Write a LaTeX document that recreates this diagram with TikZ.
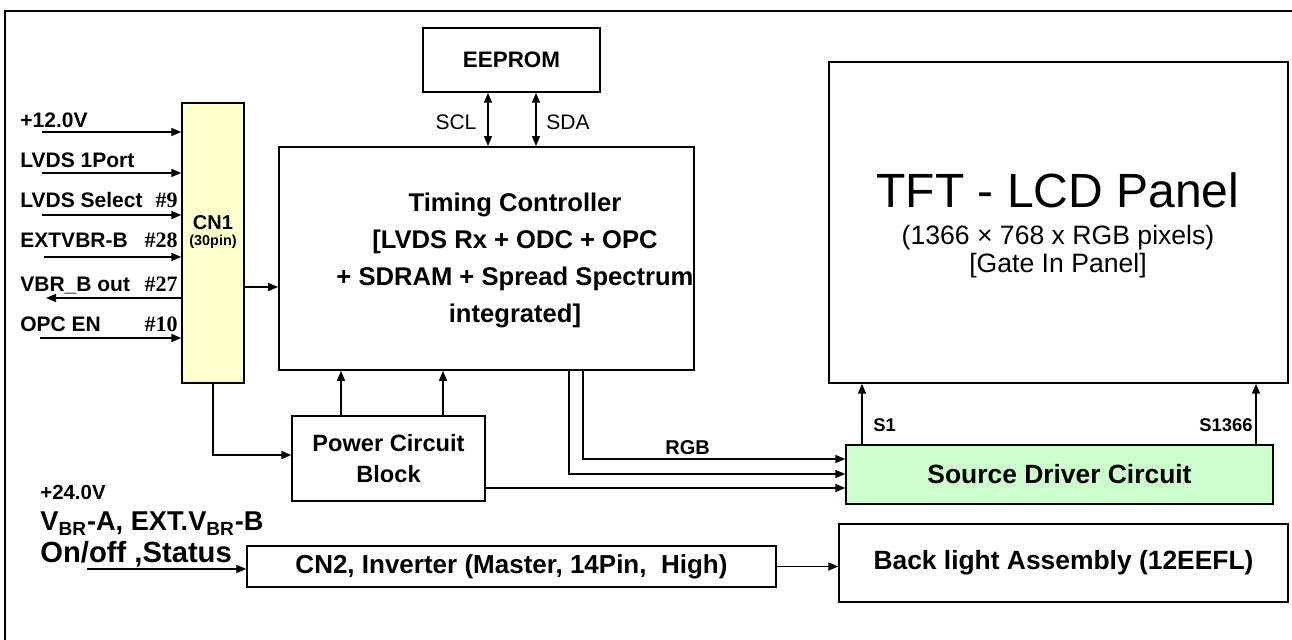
\documentclass[tikz,border=0pt]{standalone}
\usepackage{fontspec}
\setmainfont{Liberation Sans}
\newfontfamily\pinfont{Liberation Serif}
\usetikzlibrary{arrows.meta, positioning}
\definecolor{cnyellow}{RGB}{255,255,204}
\definecolor{drvgreen}{RGB}{204,255,204}

\begin{document}
\begin{tikzpicture}[x=0.5pt, y=-0.5pt,
    box/.style={draw, line width=0.7pt, inner sep=0pt, align=center},
    arr/.style={-{Triangle[length=5pt, width=4pt]}, line width=0.8pt},
    darr/.style={{Triangle[length=5pt, width=4pt]}-{Triangle[length=5pt, width=4pt]}, line width=0.8pt},
    sig/.style={anchor=base west, inner sep=0pt, font=\bfseries\fontsize{10.5}{12}\selectfont},
    pin/.style={anchor=base east, inner sep=0pt, font=\pinfont\bfseries\fontsize{11}{12}\selectfont},
    big/.style={font=\bfseries\fontsize{13.2}{18.5}\selectfont}]
    \useasboundingbox (0,0) rectangle (1292,640);

    % Frame
    \draw[line width=1pt] (5,640) -- (5,11) -- (1292,11);

    % EEPROM
    \node[box, minimum width=88.5pt, minimum height=32pt, font=\bfseries\fontsize{11.2}{13}\selectfont] (eeprom) at (511.5,60) {EEPROM};

    % Timing controller
    \node[box, line width=0.9pt, minimum width=207.5pt, minimum height=111.5pt] (tc) at (486.5,258.5) {};
    \node[align=center, inner sep=0pt, font=\bfseries\fontsize{12.8}{18.5}\selectfont] (tcl) at (515,260) {Timing Controller\\ {[LVDS Rx + ODC + OPC}\\ + SDRAM + Spread Spectrum\\ integrated]};

    % SCL / SDA
    \coordinate (scl) at (488,0);
    \coordinate (sda) at (536,0);
    \draw[darr] (eeprom.south -| scl) -- (tc.north -| scl);
    \draw[darr] (eeprom.south -| sda) -- (tc.north -| sda);
    \node[anchor=base, inner sep=0pt, font=\fontsize{10.5}{12}\selectfont] (scll) at (456,130) {SCL};
    \node[anchor=base, inner sep=0pt, font=\fontsize{10.5}{12}\selectfont] (sdal) at (568,130) {SDA};

    % TFT-LCD panel
    \node[box, minimum width=229.5pt, minimum height=160.5pt] (tft) at (1058.5,222.5) {};
    \node[anchor=base, inner sep=0pt, font=\fontsize{24}{28}\selectfont] (tftl1) at (1058,208) {TFT - LCD Panel};
    \node[anchor=base, inner sep=0pt, font=\fontsize{13.3}{16}\selectfont] (tftl2) at (1058,245) {(1366 × 768 x RGB pixels)};
    \node[anchor=base, inner sep=0pt, font=\fontsize{13.3}{16}\selectfont] (tftl3) at (1058,273) {[Gate In Panel]};

    % CN1
    \node[box, fill=cnyellow, minimum width=31pt, minimum height=140pt] (cn1) at (213,243) {};
    \node[anchor=base, inner sep=0pt, font=\bfseries\fontsize{10}{12}\selectfont] (cn1l) at (213,230) {CN1};
    \node[anchor=base, inner sep=0pt, font=\bfseries\fontsize{7.2}{9}\selectfont] (cn1p) at (213,246) {(30pin)};

    % CN1 signals
    \node[sig] (s1l) at (20,128) {+12.0V};
    \node[sig] (s2l) at (20,168) {LVDS 1Port};
    \node[sig] (s3l) at (20,208) {LVDS Select};
    \node[sig] (s4l) at (20,248) {EXTVBR-B};
    \node[sig] (s5l) at (20,292) {VBR\_B out};
    \node[sig] (s6l) at (20,332) {OPC EN};
    \node[pin] (p3) at (178,208) {\#9};
    \node[pin] (p4) at (178,248) {\#28};
    \node[pin] (p5) at (178,292) {\#27};
    \node[pin] (p6) at (178,332) {\#10};
    \coordinate (in1) at (42,132);
    \coordinate (in2) at (42,173);
    \coordinate (in3) at (42,215);
    \coordinate (in4) at (44,257);
    \coordinate (out5) at (46,298);
    \coordinate (in6) at (40,338);
    \draw[arr] (in1) -- (in1 -| cn1.west);
    \draw[arr] (in2) -- (in2 -| cn1.west);
    \draw[arr] (in3) -- (in3 -| cn1.west);
    \draw[arr] (in4) -- (in4 -| cn1.west);
    \draw[arr] (out5 -| cn1.west) -- (out5);
    \draw[arr] (in6) -- (in6 -| cn1.west);
    \coordinate (c1t) at (260,287);
    \draw[arr] (cn1.east |- c1t) -- (tc.west |- c1t);

    % Power circuit
    \node[box, minimum width=96.5pt, minimum height=42.5pt, font=\bfseries\fontsize{11.8}{15.5}\selectfont] (pcb) at (388.5,458.5) {Power Circuit\\Block};
    \coordinate (c1p) at (0,455);
    \draw[arr] (cn1.south) |- (pcb.west |- c1p);
    \coordinate (pw1) at (341,0);
    \coordinate (pw2) at (443,0);
    \draw[arr] (pcb.north -| pw1) -- (tc.south -| pw1);
    \draw[arr] (pcb.north -| pw2) -- (tc.south -| pw2);

    % Source driver
    \node[box, fill=drvgreen, minimum width=213.5pt, minimum height=29.5pt, big] (sdc) at (1059.5,474.5) {Source Driver Circuit};
    \coordinate (rgb) at (583,459);
    \coordinate (clk) at (569,474);
    \coordinate (pwr) at (0,488);
    \draw[arr] (tc.south -| rgb) |- (sdc.west |- rgb);
    \draw[arr] (tc.south -| clk) |- (sdc.west |- clk);
    \draw[arr] (pcb.east |- pwr) -- (sdc.west |- pwr);
    \node[anchor=base west, inner sep=0pt, font=\bfseries\fontsize{10}{12}\selectfont] (rgbl) at (665,455) {RGB};
    \coordinate (so1) at (862,0);
    \coordinate (so2) at (1256,0);
    \draw[arr] (sdc.north -| so1) -- (tft.south -| so1);
    \draw[arr] (sdc.north -| so2) -- (tft.south -| so2);
    \node[anchor=base west, inner sep=0pt, font=\bfseries\fontsize{9.2}{11}\selectfont] (so1l) at (873,432) {S1};
    \node[anchor=base east, inner sep=0pt, font=\bfseries\fontsize{9.2}{11}\selectfont] (so2l) at (1253,432) {S1366};

    % Inverter and back light
    \node[box, minimum width=264.5pt, minimum height=20.5pt, font=\bfseries\fontsize{13}{15}\selectfont] (cn2) at (511.5,566.5) {CN2, Inverter (Master, 14Pin,~ High)};
    \node[box, minimum width=224.5pt, minimum height=39pt, big] (bla) at (1063.5,563) {Back light Assembly (12EEFL)};
    \draw[arr] (cn2.east) -- (bla.west |- cn2.east);
    \node[anchor=base west, inner sep=0pt, font=\bfseries\fontsize{10.2}{12}\selectfont] (v24) at (40,500) {+24.0V};
    \node[anchor=base west, inner sep=0pt, font=\bfseries\fontsize{13.6}{16}\selectfont] (vbr) at (40,531) {V\textsubscript{BR}-A, EXT.V\textsubscript{BR}-B};
    \node[anchor=base west, inner sep=0pt, font=\bfseries\fontsize{14.6}{16}\selectfont] (onoff) at (40,563) {On/off ,Status};
    \coordinate (oo) at (87,569);
    \draw[arr] (oo) -- (oo -| cn2.west);
\end{tikzpicture}
\end{document}
